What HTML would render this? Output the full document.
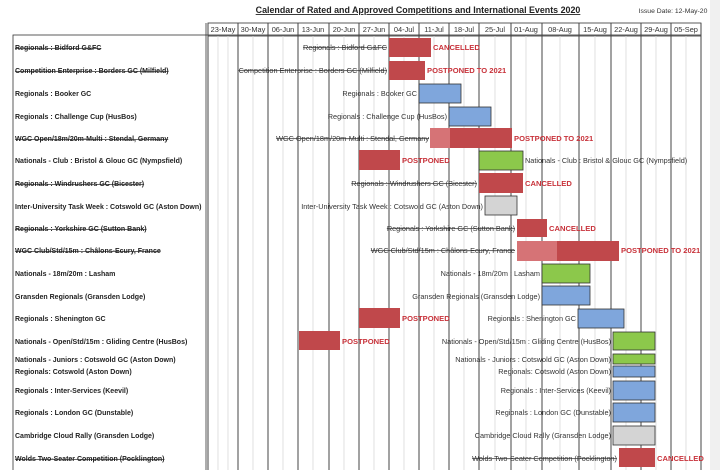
<!DOCTYPE html>
<html><head><meta charset="utf-8"><style>
body{margin:0;background:#fff;}
svg{display:block;font-family:"Liberation Sans",sans-serif;}
.l{font-size:7px;font-weight:bold;fill:#222;}
.c{font-size:7.3px;fill:#333;}
.r{font-size:7.6px;font-weight:bold;fill:#c8323a;}
.h{font-size:7.4px;fill:#333;}
</style></head><body>
<svg width="720" height="470" viewBox="0 0 720 470">
<rect x="0" y="0" width="720" height="470" fill="#fff"/>
<rect x="710" y="0" width="10" height="470" fill="#f0f0f0"/>
<text x="418" y="13" text-anchor="middle" font-size="8.9" font-weight="bold" fill="#222" text-decoration="underline">Calendar of Rated and Approved Competitions and International Events 2020</text>
<text x="673" y="13" text-anchor="middle" font-size="6.8" fill="#333">Issue Date: 12-May-20</text>
<g stroke="#333" stroke-width="0.8" fill="none">
<rect x="208" y="23" width="493" height="13"/>
<rect x="13" y="35" width="688" height="440"/>
<line x1="206" y1="23" x2="206" y2="470"/>
</g>
<g stroke="#d8d8d8" stroke-width="0.8">
<line x1="218" y1="36" x2="218" y2="470"/><line x1="228" y1="36" x2="228" y2="470"/>
<line x1="253" y1="36" x2="253" y2="470"/><line x1="283" y1="36" x2="283" y2="470"/>
<line x1="313" y1="36" x2="313" y2="470"/><line x1="344" y1="36" x2="344" y2="470"/>
<line x1="374" y1="36" x2="374" y2="470"/><line x1="404" y1="36" x2="404" y2="470"/>
<line x1="434" y1="36" x2="434" y2="470"/><line x1="464" y1="36" x2="464" y2="470"/>
<line x1="495" y1="36" x2="495" y2="470"/><line x1="526" y1="36" x2="526" y2="470"/>
<line x1="560" y1="36" x2="560" y2="470"/><line x1="595" y1="36" x2="595" y2="470"/>
<line x1="626" y1="36" x2="626" y2="470"/><line x1="656" y1="36" x2="656" y2="470"/>
<line x1="686" y1="36" x2="686" y2="470"/>
</g>
<g stroke="#444" stroke-width="1">
<line x1="208" y1="23" x2="208" y2="470"/><line x1="238" y1="23" x2="238" y2="470"/>
<line x1="268" y1="23" x2="268" y2="470"/><line x1="298" y1="23" x2="298" y2="470"/>
<line x1="329" y1="23" x2="329" y2="470"/><line x1="359" y1="23" x2="359" y2="470"/>
<line x1="389" y1="23" x2="389" y2="470"/><line x1="419" y1="23" x2="419" y2="470"/>
<line x1="449" y1="23" x2="449" y2="470"/><line x1="479" y1="23" x2="479" y2="470"/>
<line x1="511" y1="23" x2="511" y2="470"/><line x1="542" y1="23" x2="542" y2="470"/>
<line x1="579" y1="23" x2="579" y2="470"/><line x1="611" y1="23" x2="611" y2="470"/>
<line x1="641" y1="23" x2="641" y2="470"/><line x1="671" y1="23" x2="671" y2="470"/>
<line x1="701" y1="23" x2="701" y2="470"/>
</g>
<g class="h" text-anchor="middle">
<text x="223" y="32" class="h">23-May</text><text x="253" y="32" class="h">30-May</text>
<text x="283" y="32" class="h">06-Jun</text><text x="313" y="32" class="h">13-Jun</text>
<text x="344" y="32" class="h">20-Jun</text><text x="374" y="32" class="h">27-Jun</text>
<text x="404" y="32" class="h">04-Jul</text><text x="434" y="32" class="h">11-Jul</text>
<text x="464" y="32" class="h">18-Jul</text><text x="495" y="32" class="h">25-Jul</text>
<text x="526" y="32" class="h">01-Aug</text><text x="560" y="32" class="h">08-Aug</text>
<text x="595" y="32" class="h">15-Aug</text><text x="626" y="32" class="h">22-Aug</text>
<text x="656" y="32" class="h">29-Aug</text><text x="686" y="32" class="h">05-Sep</text>
</g>
<g class="l">
<text x="15" y="50" text-decoration="line-through">Regionals : Bidford G&amp;FC</text>
<text x="15" y="73" text-decoration="line-through">Competition Enterprise : Borders GC (Milfield)</text>
<text x="15" y="96">Regionals : Booker GC</text>
<text x="15" y="119">Regionals : Challenge Cup (HusBos)</text>
<text x="15" y="141" text-decoration="line-through">WGC Open/18m/20m-Multi : Stendal, Germany</text>
<text x="15" y="163">Nationals - Club : Bristol &amp; Glouc GC (Nympsfield)</text>
<text x="15" y="186" text-decoration="line-through">Regionals : Windrushers GC (Bicester)</text>
<text x="15" y="209">Inter-University Task Week : Cotswold GC (Aston Down)</text>
<text x="15" y="231" text-decoration="line-through">Regionals : Yorkshire GC (Sutton Bank)</text>
<text x="15" y="253" text-decoration="line-through">WGC Club/Std/15m : Châlons-Ecury, France</text>
<text x="15" y="276">Nationals - 18m/20m : Lasham</text>
<text x="15" y="299">Gransden Regionals (Gransden Lodge)</text>
<text x="15" y="321">Regionals : Shenington GC</text>
<text x="15" y="344">Nationals - Open/Std/15m : Gliding Centre (HusBos)</text>
<text x="15" y="362">Nationals - Juniors : Cotswold GC (Aston Down)</text>
<text x="15" y="374">Regionals: Cotswold (Aston Down)</text>
<text x="15" y="393">Regionals : Inter-Services (Keevil)</text>
<text x="15" y="415">Regionals : London GC (Dunstable)</text>
<text x="15" y="438">Cambridge Cloud Rally (Gransden Lodge)</text>
<text x="15" y="461" text-decoration="line-through">Wolds Two-Seater Competition (Pocklington)</text>
</g>
<g stroke-width="0.8">
<rect x="389" y="38" width="42" height="19" fill="#c0484b"/>
<rect x="389" y="61" width="36" height="19" fill="#c0484b"/>
<rect x="419" y="84" width="42" height="19" fill="#7fa6dc" stroke="#333"/>
<rect x="449" y="107" width="42" height="19" fill="#7fa6dc" stroke="#333"/>
<rect x="430" y="128" width="20" height="20" fill="#d67376"/>
<rect x="450" y="128" width="62" height="20" fill="#c0484b"/>
<rect x="359" y="150" width="41" height="20" fill="#c0484b"/>
<rect x="479" y="151" width="44" height="19" fill="#8cc84b" stroke="#333"/>
<rect x="479" y="173" width="44" height="20" fill="#c0484b"/>
<rect x="485" y="196" width="32" height="19" fill="#d4d4d4" stroke="#333"/>
<rect x="517" y="219" width="30" height="18" fill="#c0484b"/>
<rect x="517" y="241" width="40" height="20" fill="#d67376"/>
<rect x="557" y="241" width="62" height="20" fill="#c0484b"/>
<rect x="542" y="264" width="48" height="19" fill="#8cc84b" stroke="#333"/>
<rect x="542" y="286" width="48" height="19" fill="#7fa6dc" stroke="#333"/>
<rect x="359" y="308" width="41" height="20" fill="#c0484b"/>
<rect x="578" y="309" width="46" height="19" fill="#7fa6dc" stroke="#333"/>
<rect x="299" y="331" width="41" height="19" fill="#c0484b"/>
<rect x="613" y="332" width="42" height="18" fill="#8cc84b" stroke="#333"/>
<rect x="613" y="354" width="42" height="10" fill="#8cc84b" stroke="#333"/>
<rect x="613" y="366" width="42" height="11" fill="#7fa6dc" stroke="#333"/>
<rect x="613" y="381" width="42" height="19" fill="#7fa6dc" stroke="#333"/>
<rect x="613" y="403" width="42" height="19" fill="#7fa6dc" stroke="#333"/>
<rect x="613" y="426" width="42" height="19" fill="#d4d4d4" stroke="#333"/>
<rect x="619" y="448" width="36" height="19" fill="#c0484b"/>
</g>
<g class="c" text-anchor="end">
<text x="387" y="50" text-decoration="line-through">Regionals : Bidford G&amp;FC</text>
<text x="387" y="73" text-decoration="line-through">Competition Enterprise : Borders GC (Milfield)</text>
<text x="417" y="96">Regionals : Booker GC</text>
<text x="447" y="119">Regionals : Challenge Cup (HusBos)</text>
<text x="429" y="141" text-decoration="line-through">WGC Open/18m/20m-Multi : Stendal, Germany</text>
<text x="477" y="186" text-decoration="line-through">Regionals : Windrushers GC (Bicester)</text>
<text x="483" y="209">Inter-University Task Week : Cotswold GC (Aston Down)</text>
<text x="515" y="231" text-decoration="line-through">Regionals : Yorkshire GC (Sutton Bank)</text>
<text x="515" y="253" text-decoration="line-through">WGC Club/Std/15m : Châlons-Ecury, France</text>
<text x="540" y="276">Nationals - 18m/20m : Lasham</text>
<text x="540" y="299">Gransden Regionals (Gransden Lodge)</text>
<text x="576" y="321">Regionals : Shenington GC</text>
<text x="611" y="344">Nationals - Open/Std/15m : Gliding Centre (HusBos)</text>
<text x="611" y="362">Nationals - Juniors : Cotswold GC (Aston Down)</text>
<text x="611" y="374">Regionals: Cotswold (Aston Down)</text>
<text x="611" y="393">Regionals : Inter-Services (Keevil)</text>
<text x="611" y="415">Regionals : London GC (Dunstable)</text>
<text x="611" y="438">Cambridge Cloud Rally (Gransden Lodge)</text>
<text x="617" y="461" text-decoration="line-through">Wolds Two-Seater Competition (Pocklington)</text>
</g>
<text class="c" x="525" y="163">Nationals - Club : Bristol &amp; Glouc GC (Nympsfield)</text>
<g class="r">
<text x="433" y="50">CANCELLED</text>
<text x="427" y="73">POSTPONED TO 2021</text>
<text x="514" y="141">POSTPONED TO 2021</text>
<text x="402" y="163">POSTPONED</text>
<text x="525" y="186">CANCELLED</text>
<text x="549" y="231">CANCELLED</text>
<text x="621" y="253">POSTPONED TO 2021</text>
<text x="402" y="321">POSTPONED</text>
<text x="342" y="344">POSTPONED</text>
<text x="657" y="461">CANCELLED</text>
</g>
</svg>
</body></html>
